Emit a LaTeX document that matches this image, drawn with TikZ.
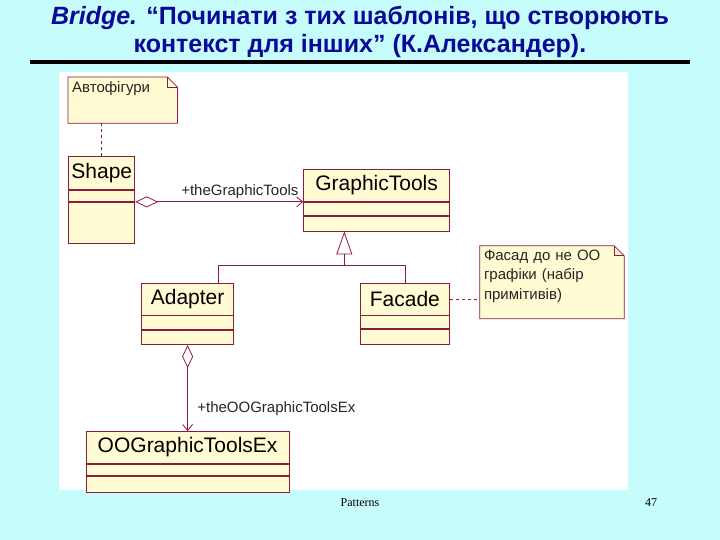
\documentclass[tikz,border=0pt]{standalone}
\usepackage{fontspec}
\setmainfont{Liberation Serif}
\setsansfont{Liberation Sans}
\usepackage{xcolor}
\usepackage{tikz}
\usetikzlibrary{positioning,arrows.meta,calc}
\definecolor{slidebg}{HTML}{C6FCFC}
\definecolor{titleblue}{HTML}{0A0A96}
\definecolor{umlfill}{HTML}{FFFBD2}
\definecolor{umlline}{HTML}{8C1C3C}
\tikzset{
    heading/.style={font=\sffamily\bfseries\fontsize{25}{28}\selectfont, text=titleblue, align=center},
    classname/.style={rectangle, draw=umlline, fill=umlfill, line width=0.8pt, inner sep=0pt, minimum height=32pt, font=\sffamily\fontsize{21}{24}\selectfont},
    compart/.style={rectangle, draw=umlline, fill=umlfill, line width=0.8pt, inner sep=0pt},
    umlnote/.style={rectangle, fill=umlfill, inner sep=4pt, align=left, font=\sffamily\fontsize{15}{19.5}\selectfont, text=black!85},
    link/.style={draw=umlline, line width=0.8pt},
    aggr/.style={link, {Diamond[open, length=23pt, width=11pt]}-{Straight Barb[length=6pt, width=10pt]}},
    inherit/.style={link, -{Triangle[open, length=23pt, width=16pt]}},
    anchorline/.style={link, dashed},
    role/.style={font=\sffamily\fontsize{15}{17}\selectfont, text=black!85},
    footer/.style={font=\fontsize{12}{14}\selectfont}
}
% folded corner of a note
\newcommand{\notefold}[1]{%
    \fill[white] ([xshift=-10pt]#1.north east) -- (#1.north east) -- ([yshift=-10pt]#1.north east) -- cycle;
    \draw[link] (#1.south west) -- (#1.north west) -- ([xshift=-10pt]#1.north east) -- ([yshift=-10pt]#1.north east) -- (#1.south east) -- cycle;
    \draw[link] ([xshift=-10pt]#1.north east) -- ([xshift=-10pt,yshift=-10pt]#1.north east) -- ([yshift=-10pt]#1.north east);
}

\begin{document}
\begin{tikzpicture}[x=1pt, y=-1pt]

% ── Slide ──
\useasboundingbox (0,0) rectangle (720,540);
\fill[slidebg] (0,0) rectangle (720,540);
\fill[white] (59,72) rectangle (628,490);
\draw[line width=4pt] (30,62) -- (690,62);
\node[heading] (title) at (360,32) {\textit{Bridge.} “Починати з тих шаблонів, що створюють\\контекст для інших” (К.Александер).};

% ── Note: Автофігури ──
\node[umlnote, text width=101pt, text depth=27pt, anchor=north west] (autofig) at (68,77) {Автофігури};
\notefold{autofig}

% ── Shape ──
\node[classname, minimum width=66pt, minimum height=33pt, below right=33pt and -109pt of autofig] (shape) {Shape};
\node[compart, minimum width=66pt, minimum height=11pt, below=0pt of shape] (shape_a) {};
\node[compart, minimum width=66pt, minimum height=41pt, below=0pt of shape_a] (shape_o) {};

% ── GraphicTools ──
\node[classname, minimum width=146pt, below right=-21pt and 168pt of shape] (gtools) {GraphicTools};
\node[compart, minimum width=146pt, minimum height=13pt, below=0pt of gtools] (gtools_a) {};
\node[compart, minimum width=146pt, minimum height=15pt, below=0pt of gtools_a] (gtools_o) {};

% ── Adapter ──
\node[classname, minimum width=92pt, below right=39pt and 6pt of shape_o] (adapter) {Adapter};
\node[compart, minimum width=92pt, minimum height=14pt, below=0pt of adapter] (adapter_a) {};
\node[compart, minimum width=92pt, minimum height=14pt, below=0pt of adapter_a] (adapter_o) {};

% ── Facade ──
\node[classname, minimum width=89pt, right=126pt of adapter] (facade) {Facade};
\node[compart, minimum width=89pt, minimum height=13pt, below=0pt of facade] (facade_a) {};
\node[compart, minimum width=89pt, minimum height=15pt, below=0pt of facade_a] (facade_o) {};

% ── Note: Фасад ──
\node[umlnote, text width=136pt, text depth=54pt, above right=-36pt and 30pt of facade] (facade_note) {Фасад до не ОО\\графіки (набір\\примітивів)};
\notefold{facade_note}

% ── OOGraphicToolsEx ──
\node[classname, minimum width=203pt, below=86pt of adapter_o] (oogtools) {OOGraphicToolsEx};
\node[compart, minimum width=203pt, minimum height=11pt, below=0pt of oogtools] (oogtools_a) {};
\node[compart, minimum width=203pt, minimum height=16pt, below=0pt of oogtools_a] (oogtools_o) {};

% ── Relationships ──
\draw[anchorline] (shape.north) -- (shape.north |- autofig.south);
\draw[anchorline] (facade.east) -- (facade.east -| facade_note.west);
\draw[aggr] (shape_o.north east) -- (gtools.south west) node[role, pos=1, above left=0pt and 1pt] {+theGraphicTools};
\draw[aggr] (adapter_o.south) -- (adapter_o.south |- oogtools.north) node[role, pos=0.74, right=6pt] {+theOOGraphicToolsEx};
\coordinate (gen) at ($(gtools_o.south west)!0.28!(gtools_o.south east)$);
\coordinate (adapter_in) at ($(adapter.north west)!0.83!(adapter.north east)$);
\coordinate[above=17pt of adapter_in] (fork);
\draw[link] (adapter_in) -- (fork) -| (facade.north);
\draw[inherit] (fork -| gen) -- (gen);

% ── Footer ──
\node[footer] (footer_text) at (360,503) {Patterns};
\node[footer] (page_no) at (651,503) {47};

\end{tikzpicture}
\end{document}
